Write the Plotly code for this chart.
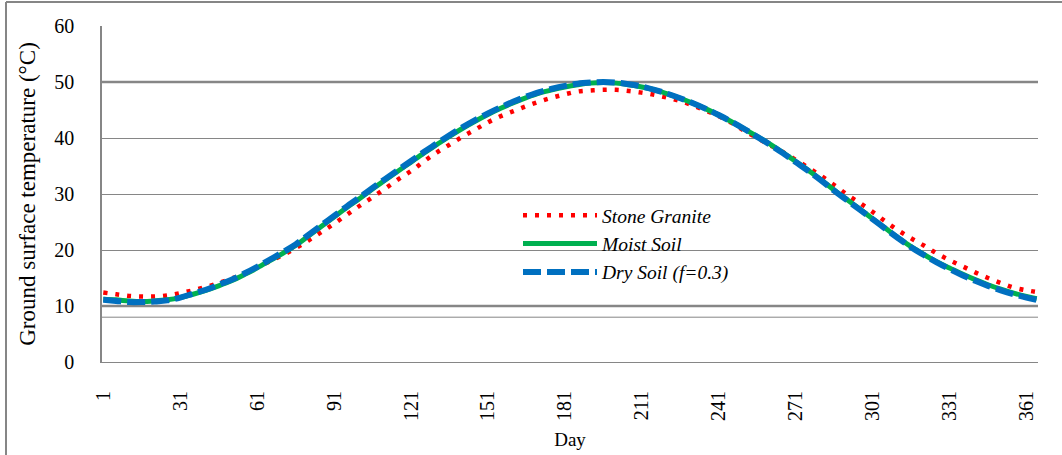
import plotly.graph_objects as go

# ---- data ----
days = [1, 6, 11, 16, 21, 26, 31, 36, 41, 46, 51, 56, 61, 66, 71, 76, 81, 86, 91, 96,
        101, 106, 111, 116, 121, 126, 131, 136, 141, 146, 151, 156, 161, 166, 171, 176,
        181, 186, 191, 196, 201, 206, 211, 216, 221, 226, 231, 236, 241, 246, 251, 256,
        261, 266, 271, 276, 281, 286, 291, 296, 301, 306, 311, 316, 321, 326, 331, 336,
        341, 346, 351, 356, 361, 365]

stone_granite = [12.4, 12.1, 11.8, 11.7, 11.7, 11.9, 12.3, 12.8, 13.4, 14.1, 14.9, 15.8,
                 16.9, 18.0, 19.1, 20.3, 21.7, 23.2, 24.7, 26.3, 27.9, 29.4, 31.0, 32.6,
                 34.1, 35.8, 37.4, 38.8, 40.2, 41.5, 42.8, 43.9, 44.8, 45.7, 46.5, 47.2,
                 47.8, 48.3, 48.5, 48.6, 48.6, 48.4, 48.1, 47.7, 47.2, 46.6, 45.8, 44.9,
                 43.9, 42.7, 41.3, 40.0, 38.7, 37.5, 36.1, 34.7, 33.2, 31.6, 29.9, 28.4,
                 26.8, 25.1, 23.5, 22.1, 20.8, 19.4, 18.2, 17.1, 16.0, 15.0, 14.1, 13.3,
                 12.8, 12.5]

moist_soil = [11.2, 11.1, 10.9, 10.8, 10.9, 11.1, 11.5, 12.1, 12.8, 13.6, 14.5, 15.6,
              16.8, 18.1, 19.4, 20.8, 22.5, 24.2, 25.9, 27.6, 29.2, 30.9, 32.5, 34.1,
              35.7, 37.3, 38.8, 40.3, 41.7, 43.0, 44.2, 45.3, 46.3, 47.2, 48.0, 48.6,
              49.1, 49.5, 49.8, 49.9, 49.8, 49.5, 49.1, 48.6, 47.9, 47.1, 46.2, 45.2,
              44.1, 42.9, 41.6, 40.3, 38.9, 37.4, 35.8, 34.2, 32.5, 30.7, 29.0, 27.3,
              25.6, 23.9, 22.2, 20.6, 19.2, 17.9, 16.8, 15.7, 14.7, 13.8, 13.0, 12.3,
              11.7, 11.3]

dry_soil = [11.1, 10.9, 10.7, 10.7, 10.8, 11.0, 11.5, 12.2, 12.9, 13.8, 14.7, 15.8,
            17.0, 18.3, 19.6, 21.0, 22.7, 24.4, 26.1, 27.8, 29.4, 31.1, 32.7, 34.3,
            35.9, 37.5, 39.0, 40.5, 41.9, 43.2, 44.4, 45.5, 46.5, 47.4, 48.2, 48.8,
            49.3, 49.7, 49.9, 50.0, 49.9, 49.6, 49.2, 48.6, 47.9, 47.1, 46.2, 45.2,
            44.1, 42.9, 41.6, 40.2, 38.8, 37.3, 35.7, 34.1, 32.4, 30.6, 28.9, 27.2,
            25.5, 23.8, 22.1, 20.5, 19.1, 17.8, 16.6, 15.5, 14.5, 13.6, 12.8, 12.1,
            11.5, 11.1]

series_names = ["Stone Granite", "Moist Soil", "Dry Soil (f=0.3)"]
x_tick_vals = [1, 31, 61, 91, 121, 151, 181, 211, 241, 271, 301, 331, 361]
x_tick_text = ["1", "31", "61", "91", "121", "151", "181", "211", "241", "271", "301", "331", "361"]
y_tick_vals = [0, 10, 20, 30, 40, 50, 60]

# ---- figure ----
W, H = 1062, 455
L, R, T, B = 102, 24, 26, 93
pw, ph = W - L - R, H - T - B

GRID = "#868686"
SERIF = "Liberation Serif"

fig = go.Figure()
fig.add_trace(go.Scatter(x=days, y=stone_granite, name=series_names[0], mode="lines",
                         line=dict(color="#FF0000", width=4.5, dash="4px,8px", shape="spline")))
fig.add_trace(go.Scatter(x=days, y=moist_soil, name=series_names[1], mode="lines",
                         line=dict(color="#00B050", width=5, shape="spline")))
fig.add_trace(go.Scatter(x=days, y=dry_soil, name=series_names[2], mode="lines",
                         line=dict(color="#0070C0", width=6, dash="18px,6px", shape="spline")))

shapes = []
# thicker gridlines at 10 and 50, extra thin line at 8
for yv, w in [(10, 2.5), (50, 2.5), (8, 1)]:
    shapes.append(dict(type="line", xref="paper", yref="y", x0=0, x1=1, y0=yv, y1=yv,
                       line=dict(color=GRID, width=w), layer="below"))
# outer frame (top and left edges visible)
def px_x(px):
    return (px - L) / pw
def px_y(py):
    return (H - B - py) / ph
shapes.append(dict(type="line", xref="paper", yref="paper", x0=px_x(6), x1=px_x(1070),
                   y0=px_y(2), y1=px_y(2), line=dict(color=GRID, width=2)))
shapes.append(dict(type="line", xref="paper", yref="paper", x0=px_x(6), x1=px_x(6),
                   y0=px_y(2), y1=px_y(470), line=dict(color=GRID, width=2)))

fig.update_layout(
    width=W, height=H,
    margin=dict(l=L, r=R, t=T, b=B, pad=0, autoexpand=False),
    paper_bgcolor="white", plot_bgcolor="white",
    font=dict(family=SERIF, color="black", size=18),
    showlegend=True,
    legend=dict(x=px_x(518), y=px_y(196), xanchor="left", yanchor="top",
                bgcolor="rgba(0,0,0,0)", itemwidth=74,
                font=dict(family=SERIF, size=19.5, style="italic", color="black"),
                tracegroupgap=0),
    xaxis=dict(range=[0.5, 365.5], tickmode="array", tickvals=x_tick_vals, ticktext=x_tick_text,
               tickangle=-90, showgrid=False, zeroline=False, showline=True, linecolor=GRID,
               linewidth=1, ticks="", ticklabelstandoff=20, automargin=False,
               tickfont=dict(family=SERIF, size=20),
               title=dict(text="Day", font=dict(family=SERIF, size=19), standoff=12)),
    yaxis=dict(range=[0, 60], tickmode="array", tickvals=y_tick_vals, showgrid=True,
               gridcolor=GRID, gridwidth=1, zeroline=False, showline=True, linecolor=GRID,
               linewidth=1.5, ticks="", ticklabelstandoff=22, automargin=False,
               tickfont=dict(family=SERIF, size=20),
               title=dict(text="Ground surface temperature (°C)",
                          font=dict(family=SERIF, size=23), standoff=12)),
    shapes=shapes,
)

fig.write_html("out.html")
